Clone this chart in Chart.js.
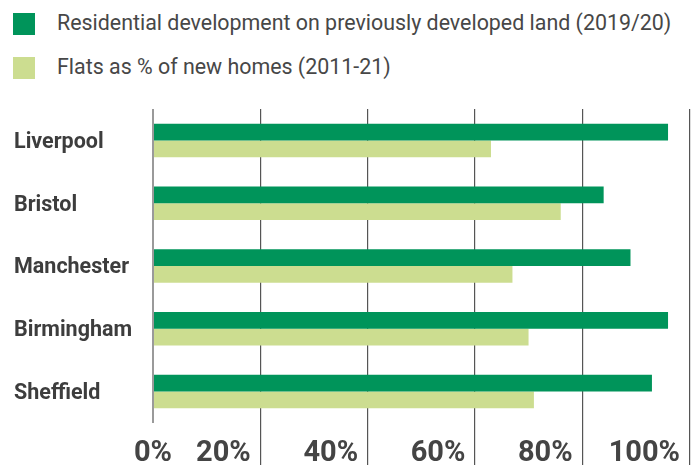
<!DOCTYPE html>
<html>
<head>
<meta charset="utf-8">
<script src="https://cdn.jsdelivr.net/npm/chart.js@4/dist/chart.umd.min.js"></script>
<style>
  html, body { margin: 0; padding: 0; background: #fff; }
  #wrap { position: relative; width: 697px; height: 465px; overflow: hidden; }
  #legend { position: absolute; left: 0; top: 0; font-family: Roboto, sans-serif; font-size: 21.4px; color: #474747; }
  .item { position: absolute; left: 13px; white-space: nowrap; height: 22px; }
  .box { position: absolute; left: 0; top: 0; width: 22px; height: 22px; }
  .txt { position: absolute; left: 44px; top: -1px; line-height: 22px; }
  canvas { position: absolute; left: 0; top: 0; }
</style>
</head>
<body>
<div id="wrap">
  <div id="legend"></div>
  <canvas id="canvasChart" width="697" height="465"></canvas>
</div>
<script>
var categories = ['Liverpool', 'Bristol', 'Manchester', 'Birmingham', 'Sheffield'];
var seriesNames = ['Residential development on previously developed land (2019/20)', 'Flats as % of new homes (2011-21)'];
var brownfieldValues = [96, 84, 89, 96, 93];
var flatsValues = [63, 76, 67, 70, 71];
var seriesColors = ['#00945a', '#ccdd90'];
var tickValues = [0, 20, 40, 60, 80, 100];

var myChart;

// legend drawn as html so the spacing can match the picture
function buildLegend() {
    var legend = document.getElementById('legend');
    seriesNames.forEach(function (name, i) {
        var item = document.createElement('div');
        item.className = 'item';
        item.style.top = (13 + i * 44) + 'px';
        var box = document.createElement('div');
        box.className = 'box';
        box.style.background = seriesColors[i];
        var txt = document.createElement('div');
        txt.className = 'txt';
        txt.textContent = name;
        item.appendChild(box);
        item.appendChild(txt);
        legend.appendChild(item);
    });
}

// bottom tick labels: first one centred, the rest sit left of their grid line
var tickLabelPlugin = {
    id: 'tickLabels',
    afterDraw: function (chart) {
        var scale = chart.scales.x;
        var ctx = chart.ctx;
        ctx.save();
        ctx.font = 'bold 29px Roboto';
        ctx.fillStyle = '#444444';
        ctx.textBaseline = 'alphabetic';
        tickValues.forEach(function (v) {
            var px = scale.getPixelForValue(v);
            var label = v + '%';
            if (v === 0) {
                ctx.textAlign = 'center';
                ctx.fillText(label, px, scale.bottom - 4);
            } else {
                ctx.textAlign = 'right';
                ctx.fillText(label, px - 9.5, scale.bottom - 4);
            }
        });
        ctx.restore();
    }
};

function drawChart() {
    try {
        Chart.defaults.font.family = 'Roboto';
        var config = {
            type: 'bar',
            data: {
                labels: categories,
                datasets: [{
                    label: seriesNames[0],
                    data: brownfieldValues,
                    backgroundColor: seriesColors[0],
                    borderWidth: 0
                }, {
                    label: seriesNames[1],
                    data: flatsValues,
                    backgroundColor: seriesColors[1],
                    borderWidth: 0
                }]
            },
            options: {
                indexAxis: 'y',
                animation: false,
                responsive: false,
                categoryPercentage: 0.533,
                barPercentage: 1.0,
                layout: {
                    padding: { top: 109, left: 14, right: 7.5, bottom: 0 }
                },
                scales: {
                    x: {
                        min: 0,
                        max: 100,
                        afterBuildTicks: function (scale) {
                            scale.ticks = tickValues.map(function (v) { return { value: v }; });
                        },
                        ticks: { display: false },
                        border: { display: false },
                        grid: {
                            drawTicks: true,
                            tickLength: 42,
                            color: function (c) { return c.tick && c.tick.value === 0 ? '#9a9a9a' : '#555555'; },
                            tickColor: function (c) { return c.tick && c.tick.value === 0 ? 'rgba(0,0,0,0)' : '#555555'; },
                            lineWidth: function (c) { return c.tick && c.tick.value === 0 ? 2 : 1.2; }
                        }
                    },
                    y: {
                        afterFit: function (scale) { scale.width = 139; },
                        border: { display: false },
                        grid: { display: false, drawTicks: false },
                        ticks: {
                            crossAlign: 'far',
                            labelOffset: 2,
                            color: '#3d3d3d',
                            font: { size: 21.5, weight: 'bold' }
                        }
                    }
                },
                plugins: {
                    legend: { display: false },
                    tooltip: { enabled: false }
                }
            },
            plugins: [tickLabelPlugin]
        };
        var ctx = document.getElementById('canvasChart').getContext('2d');
        myChart = new Chart(ctx, config);
    } catch (error) {
        console.log('Error draw: ' + error);
    }
}

buildLegend();
drawChart();
</script>
</body>
</html>
